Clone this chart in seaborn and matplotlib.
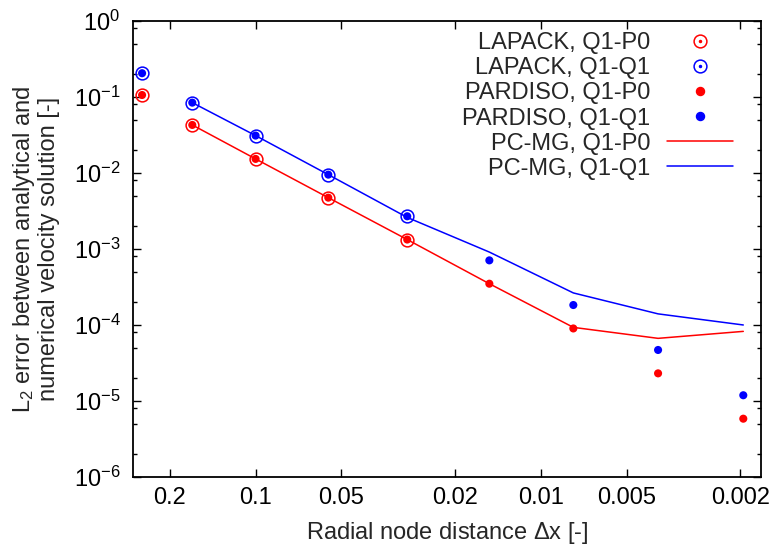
import numpy as np
import pandas as pd
import matplotlib
matplotlib.use("Agg")
import matplotlib.pyplot as plt
import seaborn as sns
from matplotlib.ticker import FixedLocator, FixedFormatter, NullLocator
from matplotlib.legend_handler import HandlerTuple
from matplotlib.lines import Line2D

# ---- data ----
dx = [0.25, 0.1667, 0.1, 0.0556, 0.0294, 0.01515, 0.00769, 0.00388, 0.00195]
lapack_q1p0 = [0.106, 0.0428, 0.0153, 0.00473, 0.00133]
lapack_q1q1 = [0.205, 0.0841, 0.031, 0.0095, 0.00269]
pardiso_q1p0 = [0.106, 0.0428, 0.0153, 0.00473, 0.00133, 3.49e-4, 9.0e-5, 2.31e-5, 5.85e-6]
pardiso_q1q1 = [0.205, 0.0841, 0.031, 0.0095, 0.00269, 7.08e-4, 1.83e-4, 4.69e-5, 1.19e-5]
pcmg_dx = dx[1:]
pcmg_q1p0 = [0.0428, 0.0153, 0.00473, 0.00133, 3.49e-4, 9.3e-5, 6.67e-5, 8.24e-5]
pcmg_q1q1 = [0.0841, 0.031, 0.0095, 0.0026, 9.1e-4, 2.64e-4, 1.40e-4, 1.0e-4]
xtick_vals = [0.2, 0.1, 0.05, 0.02, 0.01, 0.005, 0.002]
xtick_labels = ["0.2", "0.1", "0.05", "0.02", "0.01", "0.005", "0.002"]
ytick_exps = [-6, -5, -4, -3, -2, -1, 0]
ytick_labels = [r"$\mathdefault{10^{%d}}$" % e for e in ytick_exps]

sns.set_style("ticks")
plt.rcParams['font.family'] = ['Liberation Sans', 'DejaVu Sans']
plt.rcParams['mathtext.fontset'] = 'custom'
plt.rcParams['mathtext.rm'] = 'Liberation Sans'
plt.rcParams['mathtext.it'] = 'Liberation Sans:italic'
plt.rcParams['mathtext.bf'] = 'Liberation Sans:bold'

FS = 17
RED = "#ff0000"
BLUE = "#0000ff"

fig = plt.figure(figsize=(7.76, 5.5), dpi=100)
ax = fig.add_axes([0.1714, 0.1327, 0.8093, 0.8293])

ax.set_xscale("log")
ax.set_yscale("log")

# lines
sns.lineplot(x=pcmg_dx, y=pcmg_q1p0, ax=ax, color=RED, lw=1.1, sort=False, zorder=2)
sns.lineplot(x=pcmg_dx, y=pcmg_q1q1, ax=ax, color=BLUE, lw=1.1, sort=False, zorder=2)

# LAPACK open circles
ax.plot(dx[:5], lapack_q1p0, ls="none", marker="o", ms=9.2, mfc="none", mec=RED, mew=1.1, zorder=3)
ax.plot(dx[:5], lapack_q1q1, ls="none", marker="o", ms=9.2, mfc="none", mec=BLUE, mew=1.1, zorder=3)
# PARDISO filled dots
sns.scatterplot(x=dx, y=pardiso_q1p0, ax=ax, color=RED, s=34, edgecolor="none", zorder=4)
sns.scatterplot(x=dx, y=pardiso_q1q1, ax=ax, color=BLUE, s=34, edgecolor="none", zorder=4)

ax.set_xlim(0.269, 0.00169)
ax.set_ylim(1e-6, 1)

ax.xaxis.set_major_locator(FixedLocator(xtick_vals))
ax.xaxis.set_major_formatter(FixedFormatter(xtick_labels))
ax.xaxis.set_minor_locator(NullLocator())
yt = [10.0 ** e for e in ytick_exps]
ax.yaxis.set_major_locator(FixedLocator(yt))
ax.yaxis.set_major_formatter(FixedFormatter(ytick_labels))
yminor = [10.0 ** e * m for e in ytick_exps[:-1] for m in (2.0, 5.0, 8.0)]
ax.yaxis.set_minor_locator(FixedLocator(yminor))

ax.tick_params(which="both", direction="in", top=True, right=True, colors="black", labelsize=FS)
ax.tick_params(which="major", length=6, width=1.0)
ax.tick_params(which="minor", length=3, width=1.0)
ax.tick_params(axis="x", which="major", pad=7)
ax.tick_params(axis="y", which="major", pad=9)
for s in ax.spines.values():
    s.set_visible(True)
    s.set_linewidth(1.3)
    s.set_color("black")

ax.set_xlabel(r"Radial node distance $\Delta$x [-]", fontsize=FS, labelpad=8)
ax.set_ylabel("L$_2$ error between analytical and\nnumerical velocity solution [-]", fontsize=FS,
              labelpad=10, linespacing=1.05)

# legend
dot_r = Line2D([], [], ls="none", marker="o", ms=1.5, color=RED)
dot_b = Line2D([], [], ls="none", marker="o", ms=1.5, color=BLUE)
circ_r = Line2D([], [], ls="none", marker="o", ms=9.2, mfc="none", mec=RED, mew=1.1)
circ_b = Line2D([], [], ls="none", marker="o", ms=9.2, mfc="none", mec=BLUE, mew=1.1)
fill_r = Line2D([], [], ls="none", marker="o", ms=5.8, color=RED)
fill_b = Line2D([], [], ls="none", marker="o", ms=5.8, color=BLUE)
line_r = Line2D([], [], color=RED, lw=1.1)
line_b = Line2D([], [], color=BLUE, lw=1.1)
handles = [(circ_r, dot_r), (circ_b, dot_b), fill_r, fill_b, line_r, line_b]
labels = ["LAPACK, Q1-P0", "LAPACK, Q1-Q1", "PARDISO, Q1-P0", "PARDISO, Q1-Q1",
          "PC-MG, Q1-P0", "PC-MG, Q1-Q1"]
leg = ax.legend(handles, labels, loc="upper right", bbox_to_anchor=(0.955, 0.975),
                frameon=False, markerfirst=False, fontsize=FS, handlelength=2.8,
                handletextpad=0.7, labelspacing=0.13, borderaxespad=0.0, borderpad=0.0,
                handler_map={tuple: HandlerTuple(ndivide=1, pad=0)})

fig.savefig("out.png", dpi=100)
